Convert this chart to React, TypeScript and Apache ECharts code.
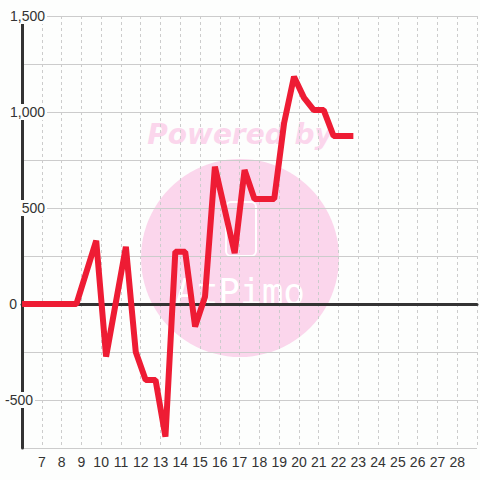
import React, { useEffect, useRef } from "react";
import * as echarts from "echarts";

const xValues = [6, 8.75, 9.75, 10.25, 11.25, 11.75, 12.25, 12.75, 13.25, 13.75, 14.25, 14.75, 15.25, 15.75, 16.75, 17.25, 17.75, 18.75, 19.25, 19.75, 20.25, 20.75, 21.25, 21.75, 22.75];
const yValues = [0, 0, 330, -274, 298, -250, -396, -396, -691, 272, 272, -118, 38, 715, 265, 698, 547, 547, 943, 1184, 1075, 1010, 1010, 875, 875];

const xMin = 6;
const xMax = 29;
const yMin = -750;
const yMax = 1500;
const yStep = 250;
const yLabelValues = [1500, 1000, 500, 0, -500];

const fmt = (v: number) => v.toLocaleString("en-US");

export default function App() {
  const ref = useRef<HTMLDivElement>(null);
  useEffect(() => {
    if (!ref.current) return;
    const chart = echarts.init(ref.current, null, { renderer: "svg" });
    const data = xValues.map((x, i) => [x, yValues[i]]);
    const pink = "#fbd6ec";
    chart.setOption({
      animation: false,
      backgroundColor: "#fdfefd",
      textStyle: { fontFamily: "Liberation Sans, Arial, sans-serif" },
      grid: { left: 20, right: 0, top: 16, bottom: 32, containLabel: false },
      graphic: [
        {
          type: "circle",
          z: -1,
          shape: { cx: 240, cy: 258, r: 99 },
          style: { fill: pink },
          silent: true,
        },
        {
          type: "text",
          z: -1,
          x: 240,
          y: 134,
          silent: true,
          style: {
            text: "Powered by",
            fill: pink,
            font: "italic bold 28px 'DejaVu Sans'",
            align: "center",
            verticalAlign: "middle",
          },
        },
        {
          type: "rect",
          z: -1,
          silent: true,
          shape: { x: 226, y: 202, width: 30, height: 54, r: 5 },
          style: { fill: "none", stroke: "#ffffff", lineWidth: 2 },
        },
        {
          type: "text",
          z: -1,
          x: 240,
          y: 291,
          silent: true,
          style: {
            text: "AtPimo",
            fill: "#ffffff",
            font: "normal 36px 'DejaVu Sans Mono'",
            align: "center",
            verticalAlign: "middle",
          },
        },
      ],
      xAxis: [
        {
          type: "value",
          min: xMin,
          max: xMax,
          interval: 1,
          axisLine: { show: false, onZero: false },
          axisTick: { show: false },
          axisLabel: {
            color: "#333",
            fontSize: 14,
            margin: 7,
            formatter: (v: number) => (v === xMin || v === xMax ? "" : String(v)),
          },
          splitLine: {
            show: true,
            lineStyle: { color: "#cccccc", width: 1, type: [3, 3] },
          },
        },
        {
          type: "value",
          min: xMin,
          max: xMax,
          interval: 1,
          axisLine: { show: true, onZero: true, lineStyle: { color: "#333", width: 3 } },
          axisTick: { show: false },
          axisLabel: { show: false },
          splitLine: { show: false },
        },
      ],
      yAxis: {
        type: "value",
        min: yMin,
        max: yMax,
        interval: yStep,
        axisLine: { show: true, onZero: false, lineStyle: { color: "#333", width: 3 } },
        axisTick: { show: false },
        axisLabel: {
          inside: true,
          align: "right",
          margin: 25,
          color: "#333",
          fontSize: 14,
          formatter: (v: number) => {
            if (!yLabelValues.includes(v)) return "";
            if (v === 0) return "{t|" + fmt(v) + "}{s0| }";
            if (v < 0) return "{t|" + fmt(v) + "}{s1| }";
            return "{t|" + fmt(v) + "}";
          },
          rich: {
            t: {
              color: "#333",
              fontSize: 14,
              backgroundColor: "#fdfefd",
              padding: [1, 2, 1, 2],
            },
            s0: { width: 28, fontSize: 14 },
            s1: { width: 12, fontSize: 14 },
          },
        },
        splitLine: { show: true, lineStyle: { color: "#cccccc", width: 1 } },
      },
      series: [
        {
          type: "line",
          xAxisIndex: 0,
          data,
          showSymbol: false,
          symbol: "none",
          lineStyle: { color: "#ee1c34", width: 6 },
          z: 3,
        },
      ],
    });
    return () => chart.dispose();
  }, []);
  return (
    <div
      ref={ref}
      style={{ position: "fixed", left: 0, top: 0, width: 480, height: 480 }}
    />
  );
}
